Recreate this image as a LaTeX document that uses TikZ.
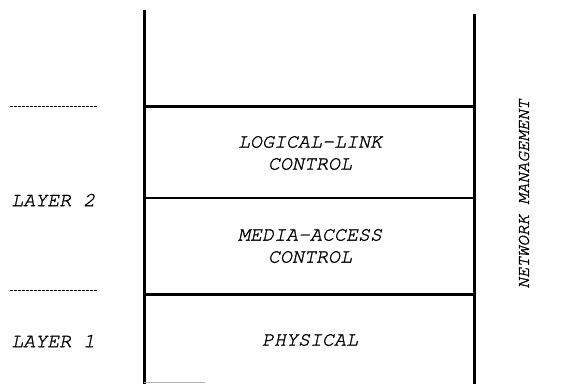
\documentclass[tikz,border=0pt]{standalone}
\usepackage{fontspec}
\newfontfamily\curfont[FakeBold=1.3]{TeX Gyre Cursor}
\begin{document}
\begin{tikzpicture}[x=1pt,y=-1pt,
  lbl/.style={font=\fontsize{20}{22}\selectfont\curfont\itshape, align=center, inner sep=0pt},
  sidelbl/.style={font=\fontsize{17.5}{20}\selectfont\curfont\itshape, inner sep=0pt},
  thickline/.style={line width=3pt},
  thinline/.style={line width=1.5pt},
  dashline/.style={dash pattern=on 2.5pt off 1.5pt, line width=0.9pt}]
\useasboundingbox (0,0) rectangle (561,384);
% frame coordinates
\coordinate (lt) at (144,10);
\coordinate (lb) at (144,384);
\coordinate (rt) at (474,14);
\coordinate (rb) at (474,384);
\coordinate (l1) at (144,106);
\coordinate (r1) at (474,106);
\coordinate (l2) at (144,198);
\coordinate (r2) at (474,198);
\coordinate (l3) at (144,294);
\coordinate (r3) at (474,294);
\coordinate (g1) at (144,382.5);
\coordinate (g2) at (205,382.5);
\draw[thickline] (lt) -- (lb);
\draw[thickline] (rt) -- (rb);
\draw[thickline] (l1) -- (r1);
\draw[thinline] (l2) -- (r2);
\draw[thickline] (l3) -- (r3);
\draw[gray!60, line width=1pt] (g1) -- (g2);
% dashed layer separators
\coordinate (d1a) at (10,106);
\coordinate (d1b) at (97,106);
\coordinate (d2a) at (10,290);
\coordinate (d2b) at (97,290);
\draw[dashline] (d1a) -- (d1b);
\draw[dashline] (d2a) -- (d2b);
% texts
\node[lbl] (llc) at (310,153) {LOGICAL-LINK\\CONTROL};
\node[lbl] (mac) at (310,246) {MEDIA-ACCESS\\CONTROL};
\node[lbl] (phy) at (310,340) {PHYSICAL};
\node[lbl, anchor=west] (lay2) at (11,200) {LAYER 2};
\node[lbl, anchor=west] (lay1) at (11,341) {LAYER 1};
\node[sidelbl, rotate=90] (nm) at (524,194) {NETWORK MANAGEMENT};
\end{tikzpicture}
\end{document}
